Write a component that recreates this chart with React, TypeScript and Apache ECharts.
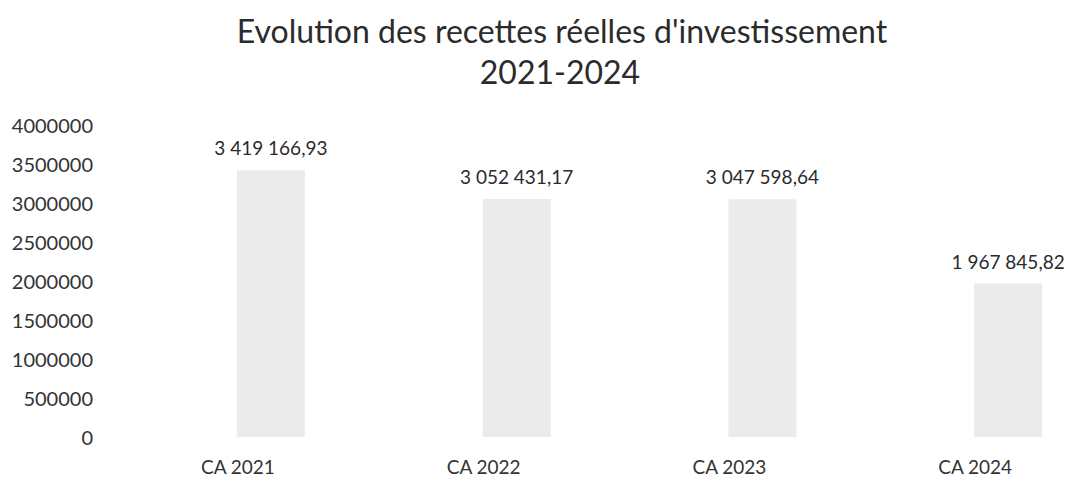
import React, { useEffect, useRef } from "react";
import * as echarts from "echarts";

const categories = ["CA 2021", "CA 2022", "CA 2023", "CA 2024"];
const values = [3419166.93, 3052431.17, 3047598.64, 1967845.82];
const titleLines = ["Evolution des recettes réelles d'investissement", "2021-2024"];

const FONT = "Lato";

function frNumber(v: number): string {
  const [intPart, dec] = v.toFixed(2).split(".");
  const grouped = intPart.replace(/\B(?=(\d{3})+(?!\d))/g, " ");
  return grouped + "," + dec;
}

export default function App() {
  const ref = useRef<HTMLDivElement>(null);
  useEffect(() => {
    document.body.style.margin = "0";
    const chart = echarts.init(ref.current!, null, { renderer: "svg" });
    const titleStyle = {
      fontFamily: FONT,
      fontSize: 32,
      fontWeight: "normal",
      color: "#2b2b2b",
      lineHeight: 36,
    };
    chart.setOption({
      animation: false,
      backgroundColor: "#ffffff",
      title: [
        {
          text: titleLines[0],
          left: 562,
          textAlign: "center",
          top: 12,
          padding: 0,
          textStyle: titleStyle,
        },
        {
          text: titleLines[1],
          left: 560,
          textAlign: "center",
          top: 53,
          padding: 0,
          textStyle: titleStyle,
        },
      ],
      grid: { left: 148, right: 0, top: 125, bottom: 42 },
      xAxis: {
        type: "category",
        data: categories,
        axisLine: { show: false },
        axisTick: { show: false },
        axisLabel: {
          fontFamily: FONT,
          fontSize: 19,
          color: "#333333",
          margin: 20,
          padding: [0, 66, 0, 0],
        },
      },
      yAxis: {
        type: "value",
        min: 0,
        max: 4000000,
        interval: 500000,
        splitLine: { show: false },
        axisLine: { show: false },
        axisTick: { show: false },
        axisLabel: {
          fontFamily: FONT,
          fontSize: 20,
          color: "#333333",
          margin: 55,
          formatter: (v: number) => String(v),
        },
      },
      series: [
        {
          type: "bar",
          data: values,
          barWidth: 68,
          itemStyle: { color: "#ebebeb" },
          label: {
            show: true,
            position: "top",
            distance: 13,
            fontFamily: FONT,
            fontSize: 19,
            color: "#2b2b2b",
            formatter: (p: any) => frNumber(p.value),
          },
        },
      ],
    });
    return () => chart.dispose();
  }, []);
  return (
    <div style={{ width: 1075, height: 479, overflow: "hidden" }}>
      <div ref={ref} style={{ width: 1131, height: 479 }} />
    </div>
  );
}
